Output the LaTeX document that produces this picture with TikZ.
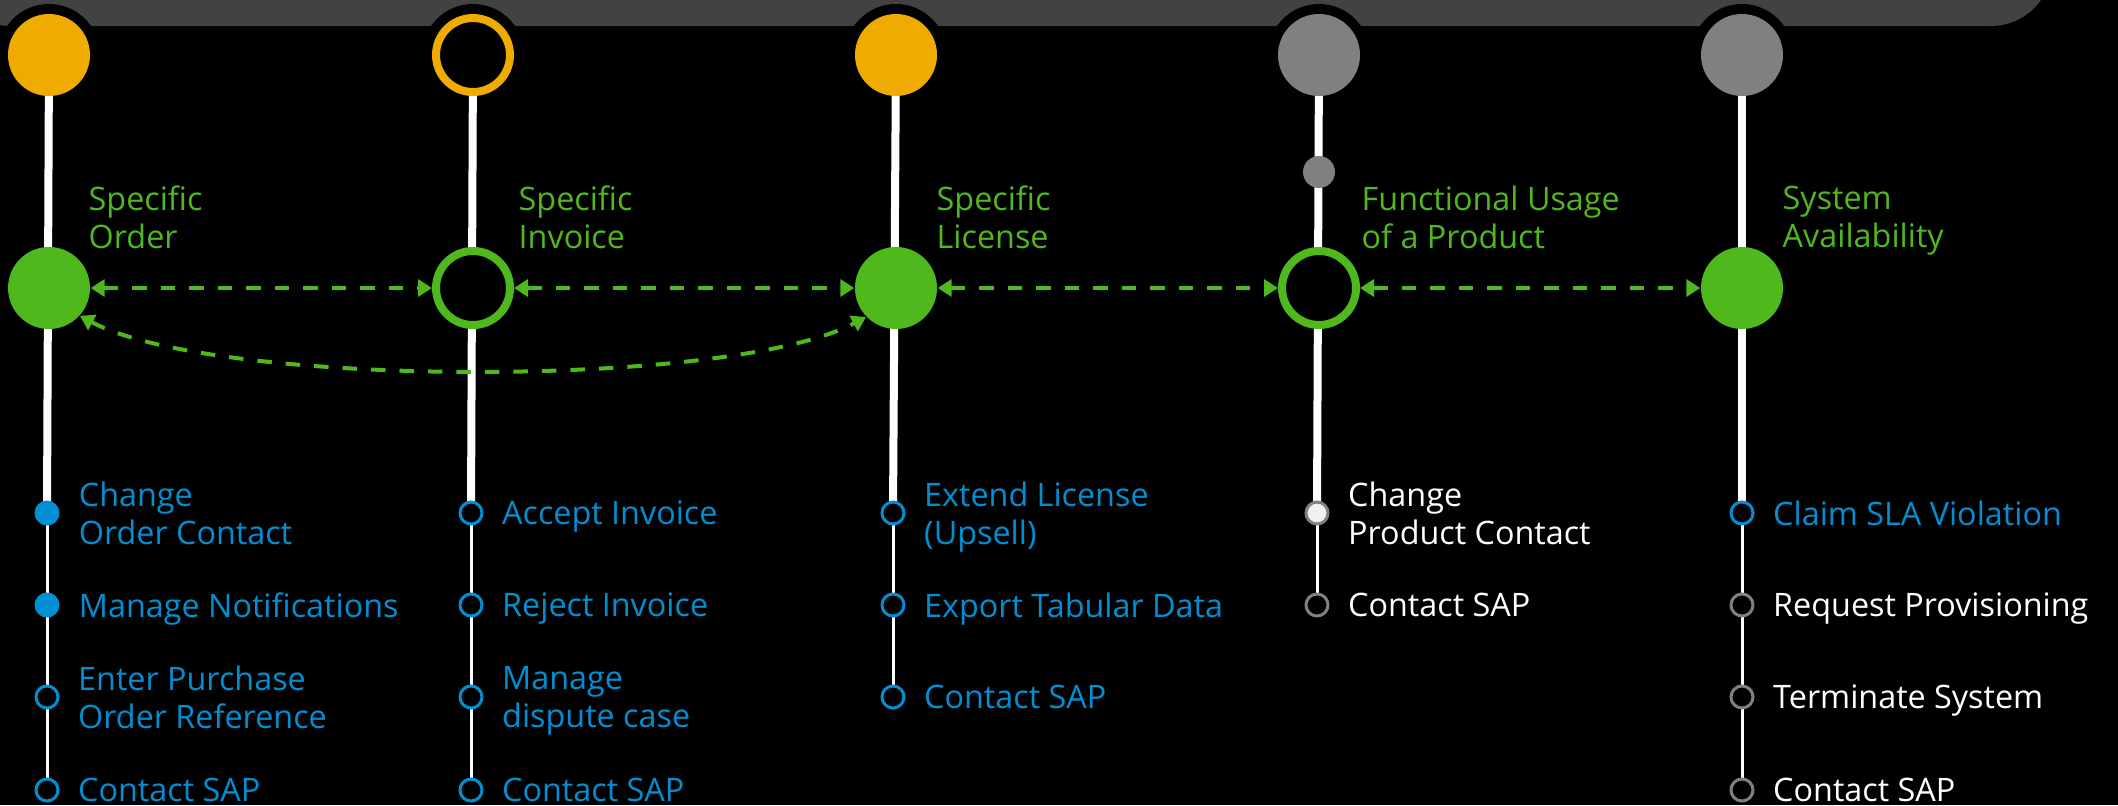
\documentclass[tikz,border=0pt]{standalone}
\usepackage{fontspec}
\setmainfont{Open Sans}
\usepackage{tikz}
\usetikzlibrary{positioning}
\usetikzlibrary{backgrounds}
\usetikzlibrary{arrows.meta}
\usepackage{xcolor}
\definecolor{sapgold}{HTML}{F0AB00}
\definecolor{sapgreen}{HTML}{4FB81C}
\definecolor{sapblue}{HTML}{008FD3}
\definecolor{sapgray}{HTML}{808080}
\definecolor{sapbar}{HTML}{424242}

\begin{document}
\begin{tikzpicture}
[font=\fontsize{9.2}{10.8}\selectfont,
% The dot styles are used for the big state circles
bigdot/.style={circle, inner sep=0pt, minimum size=0.82cm},
bigring/.style={circle, inner sep=0pt, minimum size=0.74cm, line width=0.08cm, fill=black},
% The small dots mark each action
smalldot/.style={circle, inner sep=0pt, minimum size=0.25cm},
smallring/.style={circle, inner sep=0pt, minimum size=0.22cm, line width=0.03cm, fill=black},
% The object style is used to draw the objects' name
object/.style={anchor=north west, align=left, inner sep=0pt, text=sapgreen},
action/.style={align=left, inner sep=0pt, text depth=0pt, text=sapblue},
% The link style is used for the relations between objects
link/.style={{Triangle[length=0.14cm,width=0.17cm]}-{Triangle[length=0.14cm,width=0.17cm]}, draw=sapgreen, line width=0.04cm, dash pattern=on 0.145cm off 0.14cm},
trunk/.style={white, line width=0.08cm},
twig/.style={white, line width=0.03cm}
]
\useasboundingbox (0,0) rectangle (21.18,-8.05);
% Draw states
\node[bigdot, fill=sapgold] (t1) at (0.49,-0.55) {};
\node[bigring, draw=sapgold] (t2) at (4.73,-0.55) {};
\node[bigdot, fill=sapgold] (t3) at (8.96,-0.55) {};
\node[bigdot, fill=sapgray] (t4) at (13.19,-0.55) {};
\node[bigdot, fill=sapgray] (t5) at (17.42,-0.55) {};
\node[smalldot, minimum size=0.32cm, fill=sapgray] (t4b) at (13.19,-1.72) {};
% Draw objects
\node[bigdot, fill=sapgreen] (order) at (0.49,-2.88) {};
\node[bigring, draw=sapgreen] (invoice) at (4.73,-2.88) {};
\node[bigdot, fill=sapgreen] (license) at (8.96,-2.88) {};
\node[bigring, draw=sapgreen] (usage) at (13.19,-2.88) {};
\node[bigdot, fill=sapgreen] (avail) at (17.42,-2.88) {};
\node[object] (orderl) at ([shift={(0.39,1.03)}]order.center) {Specific\\Order};
\node[object] (invoicel) at ([shift={(0.45,1.03)}]invoice.center) {Specific\\Invoice};
\node[object] (licensel) at ([shift={(0.40,1.03)}]license.center) {Specific\\License};
\node[object] (usagel) at ([shift={(0.42,1.03)}]usage.center) {Functional Usage\\of a Product};
\node[object] (availl) at ([shift={(0.40,1.03)}]avail.center) {System\\Availability};
% Draw actions
\node[smalldot, fill=sapblue] (o1) at (0.47,-5.13) {};
\node[smalldot, fill=sapblue] (o2) at (0.47,-6.05) {};
\node[smallring, draw=sapblue] (o3) at (0.47,-6.97) {};
\node[smallring, draw=sapblue] (o4) at (0.47,-7.90) {};
\node[action, right=0.18cm of o1] (o1l) {Change\\Order Contact};
\node[action, right=0.18cm of o2] (o2l) {Manage Notifications};
\node[action, right=0.18cm of o3] (o3l) {Enter Purchase\\Order Reference};
\node[action, right=0.18cm of o4] (o4l) {Contact SAP};
\node[smallring, draw=sapblue] (i1) at (4.71,-5.13) {};
\node[smallring, draw=sapblue] (i2) at (4.71,-6.05) {};
\node[smallring, draw=sapblue] (i3) at (4.71,-6.97) {};
\node[smallring, draw=sapblue] (i4) at (4.71,-7.90) {};
\node[action, right=0.18cm of i1] (i1l) {Accept Invoice};
\node[action, right=0.18cm of i2] (i2l) {Reject Invoice};
\node[action, right=0.18cm of i3] (i3l) {Manage\\dispute case};
\node[action, right=0.18cm of i4] (i4l) {Contact SAP};
\node[smallring, draw=sapblue] (l1) at (8.93,-5.13) {};
\node[smallring, draw=sapblue] (l2) at (8.93,-6.05) {};
\node[smallring, draw=sapblue] (l3) at (8.93,-6.97) {};
\node[action, right=0.18cm of l1] (l1l) {Extend License\\(Upsell)};
\node[action, right=0.18cm of l2] (l2l) {Export Tabular Data};
\node[action, right=0.18cm of l3] (l3l) {Contact SAP};
\node[smallring, draw=sapgray, fill=black!6] (u1) at (13.17,-5.13) {};
\node[smallring, draw=sapgray] (u2) at (13.17,-6.05) {};
\node[action, text=white, right=0.18cm of u1] (u1l) {Change\\Product Contact};
\node[action, text=white, right=0.18cm of u2] (u2l) {Contact SAP};
\node[smallring, draw=sapblue] (a1) at (17.42,-5.13) {};
\node[smallring, draw=sapgray] (a2) at (17.42,-6.05) {};
\node[smallring, draw=sapgray] (a3) at (17.42,-6.97) {};
\node[smallring, draw=sapgray] (a4) at (17.42,-7.90) {};
\node[action, right=0.18cm of a1] (a1l) {Claim SLA Violation};
\node[action, text=white, right=0.18cm of a2] (a2l) {Request Provisioning};
\node[action, text=white, right=0.18cm of a3] (a3l) {Terminate System};
\node[action, text=white, right=0.18cm of a4] (a4l) {Contact SAP};
% Draw links
\draw[link] (order) -- (invoice);
\draw[link] (invoice) -- (license);
\draw[link] (license) -- (usage);
\draw[link] (usage) -- (avail);
\draw[link] (order.-42) to[out=-28,in=-152,looseness=0.5] (license.-136);
% Draw bar and lifelines behind
\begin{scope}[on background layer]
\fill[black] (0,0) rectangle (21.18,-8.05);
\fill[sapbar, rounded corners=0.61cm] (-0.5,1) rectangle (20.52,-0.26);
\fill[black] (t1.center) circle (0.51cm);
\fill[black] (t2.center) circle (0.51cm);
\fill[black] (t3.center) circle (0.51cm);
\fill[black] (t4.center) circle (0.51cm);
\fill[black] (t5.center) circle (0.51cm);
\draw[trunk] (t1.center) -- (o1.center);
\draw[trunk] (t2.center) -- (i1.center);
\draw[trunk] (t3.center) -- (l1.center);
\draw[trunk] (t4.center) -- (u1.center);
\draw[trunk] (t5.center) -- (a1.center);
\draw[twig] (o1.center) -- (o4.center);
\draw[twig] (i1.center) -- (i4.center);
\draw[twig] (l1.center) -- (l3.center);
\draw[twig] (u1.center) -- (u2.center);
\draw[twig] (a1.center) -- (a4.center);
\end{scope}
\end{tikzpicture}
\end{document}
